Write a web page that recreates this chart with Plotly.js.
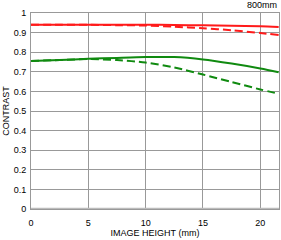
<!DOCTYPE html>
<html><head><meta charset="utf-8">
<script src="https://cdn.plot.ly/plotly-3.0.1.min.js"></script>
<style>html,body{margin:0;padding:0;background:#fff}#c{width:281px;height:240px}</style>
</head><body><div id="c"></div>
<script>
const imageHeight = [0, 2.5, 5, 7.5, 10, 12.5, 15, 17.5, 20, 21.6];
const redSolid   = [0.940, 0.940, 0.940, 0.940, 0.940, 0.939, 0.937, 0.935, 0.932, 0.928];
const redDashed  = [0.940, 0.940, 0.940, 0.938, 0.936, 0.930, 0.922, 0.912, 0.898, 0.888];
const greenSolid = [0.755, 0.760, 0.766, 0.771, 0.775, 0.775, 0.763, 0.742, 0.717, 0.698];
const greenDashed= [0.755, 0.760, 0.765, 0.760, 0.747, 0.722, 0.686, 0.648, 0.610, 0.588];
const yTicks = [0, 0.1, 0.2, 0.3, 0.4, 0.5, 0.6, 0.7, 0.8, 0.9, 1];
const yTickText = ['0','0.1','0.2','0.3','0.4','0.5','0.6','0.7','0.8','0.9','1'];
const xTicks = [0, 5, 10, 15, 20];

function tr(y, color, dash){
  return {x: imageHeight, y: y, mode:'lines', line:{color:color, width:2, dash:dash, shape:'spline', smoothing:0.8}, hoverinfo:'skip'};
}
const data = [
  tr(redSolid, '#ff1a1a', 'solid'),
  tr(redDashed, '#ff1a1a', '8px,4px'),
  tr(greenSolid, '#108a10', 'solid'),
  tr(greenDashed, '#108a10', '8px,4px')
];
const font = {family:'Liberation Sans, Arial, sans-serif', size:9, color:'#000'};
const layout = {
  width:281, height:240,
  margin:{l:31, r:2, t:13, b:31},
  paper_bgcolor:'#fff', plot_bgcolor:'#fff',
  showlegend:false,
  font: font,
  xaxis:{range:[0,21.63], tickvals:xTicks, ticktext:xTicks.map(String), showgrid:true, gridcolor:'#999999', gridwidth:1,
    zeroline:false, showline:true, linecolor:'#999999', linewidth:1, mirror:true, ticks:'', ticklen:0, ticklabelstandoff:5,
    tickfont:font, title:{text:'IMAGE HEIGHT (mm)', font:font, standoff:0}},
  yaxis:{range:[0,1], tickvals:yTicks, ticktext:yTickText, showgrid:true, gridcolor:'#999999', gridwidth:1,
    zeroline:false, showline:true, linecolor:'#999999', linewidth:1, mirror:true, ticks:'', ticklen:0, ticklabelstandoff:2,
    tickfont:font, title:{text:'CONTRAST', font:font, standoff:2}},
  shapes:[{type:'line', xref:'paper', yref:'y', x0:0, x1:1, y0:0, y1:0, line:{color:'#bbbbbb', width:2.5}}],
  annotations:[{text:'800mm', xref:'paper', yref:'paper', x:1, y:1, xanchor:'right', yanchor:'bottom', yshift:1, showarrow:false, font:font}]
};
Plotly.newPlot('c', data, layout, {staticPlot:true, displayModeBar:false});
</script></body></html>
